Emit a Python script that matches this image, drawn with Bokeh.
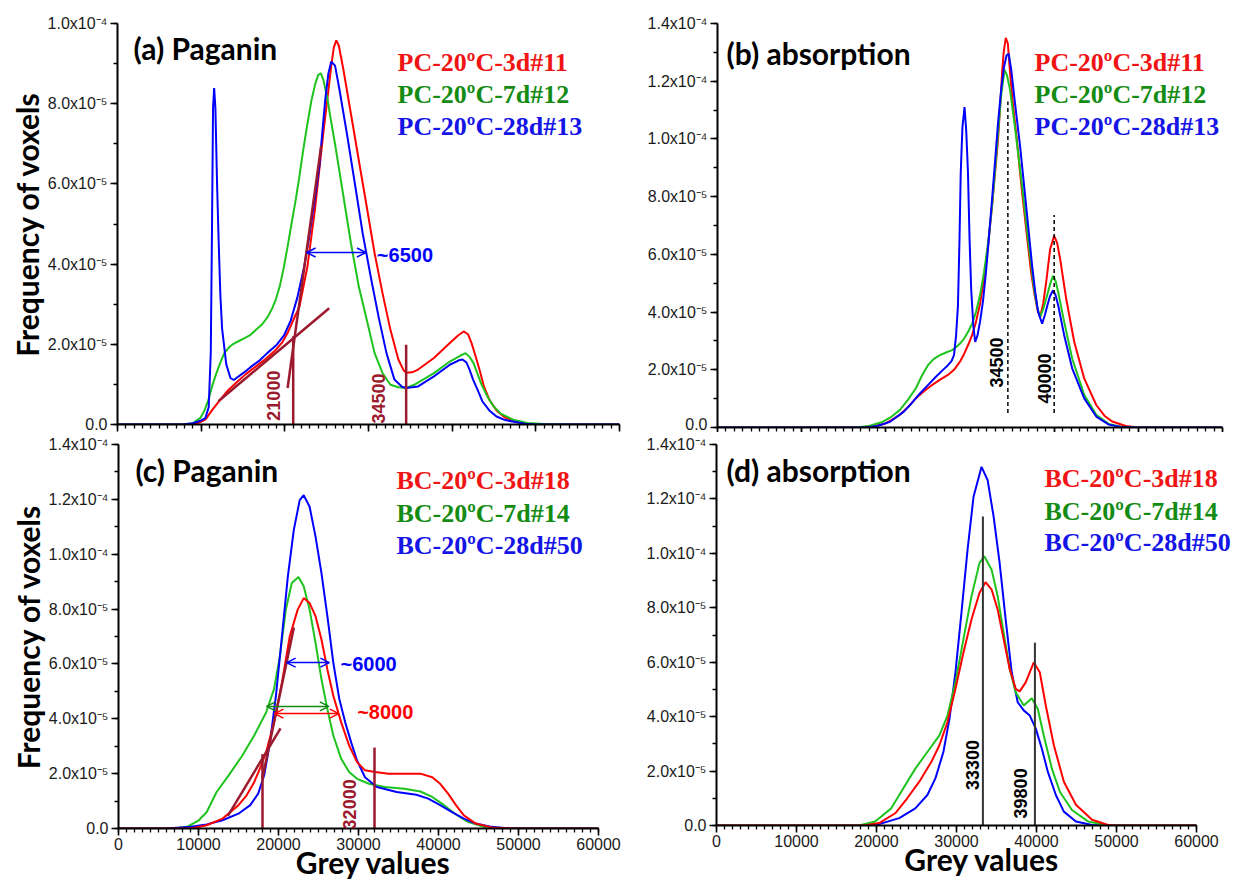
import math
from bokeh.plotting import figure
from bokeh.layouts import column, row
from bokeh.models import (Range1d, FixedTicker, CustomJSTickFormatter, Label,
                          Arrow, OpenHead, CustomLabelingPolicy)
from bokeh.embed import file_html
from bokeh.resources import INLINE

# ---------------------------------------------------------------------------
# Data: grey value histograms, (grey value, frequency x 1e-5)
# ---------------------------------------------------------------------------
SCALE = 1e-5

# (a) Paganin, PC series
A_RED = [(0, 0), (8000, 0), (9500, 0.02), (10500, 0.12), (11350, 0.37), (12290, 0.62),
         (13200, 0.85), (14180, 1.04), (15300, 1.25), (16550, 1.45), (17800, 1.65),
         (18910, 1.86), (19700, 2.05), (20330, 2.28), (21000, 2.6), (21750, 2.94),
         (22700, 3.94), (23640, 5.43), (24590, 7.25), (25530, 8.91), (25850, 9.4),
         (26150, 9.58), (26450, 9.45), (26950, 8.91), (27900, 7.75), (28840, 6.59),
         (29790, 5.43), (30730, 4.27), (31680, 3.27), (32620, 2.36), (33570, 1.62),
         (34200, 1.35), (34520, 1.29), (35200, 1.30), (35930, 1.37), (37820, 1.66),
         (39720, 2.03), (40700, 2.22), (41370, 2.32), (41900, 2.25), (42320, 2.03),
         (42800, 1.70), (43260, 1.37), (43800, 0.95), (44440, 0.62), (45300, 0.35),
         (46330, 0.17), (47500, 0.07), (49000, 0.02), (50500, 0), (60000, 0)]
A_GREEN = [(0, 0), (7800, 0), (9000, 0.03), (9930, 0.17), (10400, 0.35), (10870, 0.62),
           (11300, 0.95), (11820, 1.28), (12300, 1.55), (12770, 1.78), (13300, 1.92),
           (13710, 1.99), (14400, 2.07), (15130, 2.15), (15800, 2.22), (16550, 2.36),
           (17300, 2.5), (17970, 2.69), (18500, 2.9), (18910, 3.11), (19400, 3.45),
           (19860, 3.9), (20300, 4.4), (20750, 4.95), (21300, 5.6), (21750, 6.2),
           (22200, 6.85), (22700, 7.5), (23200, 8.1), (23640, 8.5), (24000, 8.72),
           (24300, 8.76), (24600, 8.6), (25060, 8.16), (25500, 7.6), (26000, 7.0),
           (26950, 5.76), (27900, 4.52), (28840, 3.44), (29790, 2.61), (30730, 1.78),
           (31680, 1.28), (32620, 0.99), (33570, 0.93), (34500, 0.91), (35460, 0.99),
           (37820, 1.28), (39720, 1.57), (41000, 1.72), (41610, 1.78), (42100, 1.68),
           (42550, 1.53), (43000, 1.28), (43500, 1.0), (44200, 0.7), (44920, 0.46),
           (45800, 0.27), (47280, 0.12), (49000, 0.04), (51000, 0.01), (53500, 0),
           (60000, 0)]
A_BLUE = [(0, 0), (7800, 0), (9000, 0.03), (10000, 0.1), (10500, 0.16), (10900, 0.43),
          (11150, 1.8), (11300, 5.0), (11420, 7.9), (11550, 8.39), (11700, 7.9),
          (11900, 6.0), (12100, 4.5), (12300, 3.2), (12500, 2.4), (13000, 1.5),
          (13500, 1.16), (13900, 1.11), (15000, 1.28), (15900, 1.43), (17000, 1.6),
          (17900, 1.78), (19000, 1.98), (19900, 2.22), (20700, 2.59), (21500, 3.17),
          (22300, 3.92), (22900, 4.67), (23500, 5.5), (24110, 6.42), (24820, 8.08),
          (25200, 8.75), (25550, 9.05), (26000, 8.95), (26480, 8.41), (27420, 7.25),
          (28370, 6.01), (29310, 4.76), (30260, 3.69), (31200, 2.69), (32150, 1.78),
          (33100, 1.12), (34000, 0.94), (34520, 0.91), (35930, 0.95), (37820, 1.20),
          (39720, 1.49), (40800, 1.60), (41230, 1.62), (41700, 1.55), (42080, 1.37),
          (42500, 1.12), (43030, 0.87), (43600, 0.58), (44440, 0.35), (45300, 0.2),
          (46330, 0.11), (48700, 0.02), (50000, 0), (60000, 0)]

# (b) absorption, PC series
B_RED = [(0, 0), (17000, 0), (18500, 0.05), (19800, 0.12), (20800, 0.28), (21670, 0.44),
         (22600, 0.7), (23570, 1.01), (24500, 1.25), (25480, 1.47), (26400, 1.65),
         (27380, 1.82), (28100, 2.0), (28810, 2.28), (29300, 2.55), (29760, 2.85),
         (30250, 3.2), (30710, 3.66), (31200, 4.3), (31670, 5.15), (32150, 6.3),
         (32620, 7.68), (33000, 8.9), (33330, 9.98), (33600, 11.2), (33810, 12.28),
         (34000, 13.0), (34250, 13.5), (34500, 13.3), (34760, 12.28), (35100, 11.2),
         (35480, 10.21), (36190, 8.14), (36900, 6.30), (37250, 5.4), (37620, 4.69),
         (38000, 4.1), (38330, 3.83), (38700, 4.3), (39050, 5.03), (39520, 6.18),
         (40000, 6.64), (40350, 6.4), (40710, 5.84), (41430, 4.46), (42380, 2.97),
         (43570, 1.70), (45000, 0.78), (46000, 0.4), (46900, 0.21), (48500, 0.05),
         (50000, 0), (60000, 0)]
B_GREEN = [(0, 0), (16500, 0), (18000, 0.05), (19500, 0.18), (20700, 0.38), (21670, 0.61),
           (22600, 0.95), (23570, 1.36), (24300, 1.8), (25000, 2.16), (25700, 2.38),
           (26430, 2.51), (27150, 2.6), (27860, 2.68), (28350, 2.78), (28810, 2.91),
           (29300, 3.08), (29760, 3.31), (30250, 3.6), (30710, 4.0), (31200, 4.6),
           (31670, 5.38), (32150, 6.4), (32620, 7.68), (33000, 9.0), (33330, 10.21),
           (33700, 11.5), (34100, 12.39), (34400, 12.2), (34760, 11.7), (35480, 10.09),
           (36190, 8.37), (36900, 6.53), (37620, 4.8), (38000, 4.15), (38330, 3.83),
           (38700, 4.1), (39050, 4.46), (39500, 4.95), (39860, 5.26), (40200, 5.05),
           (40480, 4.69), (41190, 3.66), (42140, 2.39), (43570, 1.13), (45000, 0.44),
           (46500, 0.12), (48000, 0.02), (49500, 0), (60000, 0)]
B_BLUE = [(0, 0), (17500, 0), (19000, 0.05), (20500, 0.2), (22140, 0.55), (23100, 0.85),
          (24050, 1.18), (25000, 1.47), (25950, 1.76), (26700, 1.97), (27380, 2.16),
          (27800, 2.3), (28100, 2.51), (28350, 3.2), (28570, 4.23), (28750, 6.5),
          (28900, 8.83), (29100, 10.4), (29350, 11.1), (29550, 10.3), (29760, 8.83),
          (29950, 6.5), (30140, 4.80), (30400, 3.5), (30620, 2.97), (30900, 3.2),
          (31190, 3.66), (31550, 4.4), (31900, 5.38), (32250, 6.6), (32620, 7.91),
          (33000, 9.3), (33330, 10.55), (33700, 11.7), (34050, 12.51), (34350, 12.9),
          (34600, 12.95), (34900, 12.4), (35240, 11.5), (35950, 9.75), (36670, 7.68),
          (37380, 5.61), (37750, 4.7), (38100, 4.0), (38570, 3.60), (38900, 3.9),
          (39190, 4.23), (39500, 4.55), (39860, 4.75), (40150, 4.6), (40480, 4.23),
          (41190, 3.20), (42140, 2.05), (43570, 1.01), (45000, 0.38), (46500, 0.1),
          (48000, 0.02), (49500, 0), (60000, 0)]

# (c) Paganin, BC series
C_RED = [(0, 0), (9000, 0), (11030, 0.12), (13010, 0.36), (14990, 0.85), (16000, 1.2),
         (16960, 1.69), (17700, 2.2), (18450, 2.78), (19440, 3.87), (20430, 5.32),
         (21410, 7.01), (22400, 7.98), (23150, 8.40), (23890, 8.22), (24630, 7.74),
         (25370, 6.89), (26110, 5.80), (26850, 4.84), (27840, 3.87), (28830, 3.02),
         (29820, 2.42), (30810, 2.12), (32050, 2.06), (33780, 2.00), (35760, 2.00),
         (37730, 2.00), (39220, 1.87), (40210, 1.63), (41200, 1.27), (42180, 0.85),
         (43170, 0.48), (44660, 0.18), (46640, 0.04), (49000, 0), (60000, 0)]
C_GREEN = [(0, 0), (7000, 0), (8560, 0.06), (10040, 0.30), (11030, 0.60), (12260, 1.33),
           (13750, 1.93), (15480, 2.66), (16960, 3.39), (18450, 4.23), (19440, 5.08),
           (20180, 6.29), (20920, 7.98), (21660, 8.95), (22500, 9.17), (23150, 8.83),
           (23890, 7.98), (24630, 6.77), (25370, 5.44), (26110, 4.35), (26850, 3.39),
           (27840, 2.54), (28830, 2.06), (29820, 1.81), (31300, 1.63), (33280, 1.51),
           (35760, 1.45), (37730, 1.35), (39220, 1.15), (40700, 0.85), (42180, 0.51),
           (43670, 0.24), (45650, 0.06), (48000, 0), (60000, 0)]
C_BLUE = [(0, 0), (6000, 0), (9050, 0.06), (11030, 0.15), (13010, 0.30), (14990, 0.54),
          (16470, 0.85), (17460, 1.27), (18200, 1.93), (18940, 3.14), (19680, 4.84),
          (20430, 7.01), (21170, 9.19), (21910, 10.88), (22650, 11.97), (23150, 12.15),
          (23890, 11.73), (24630, 10.64), (25370, 9.31), (26110, 7.74), (26850, 6.05),
          (27600, 4.72), (28340, 3.87), (29080, 3.14), (29820, 2.48), (30810, 1.87),
          (32290, 1.51), (34770, 1.33), (37240, 1.23), (38720, 1.09), (40210, 0.85),
          (41690, 0.60), (43170, 0.36), (44660, 0.18), (46640, 0.06), (49000, 0),
          (60000, 0)]

# (d) absorption, BC series
D_RED = [(0, 0), (18500, 0), (20330, 0.09), (22340, 0.45), (23840, 1.0), (25350, 1.61),
         (26860, 2.34), (27860, 2.95), (28870, 3.80), (29870, 5.02), (30870, 6.36),
         (31880, 7.58), (32880, 8.55), (33630, 8.94), (34390, 8.67), (35140, 7.94),
         (35890, 6.85), (36650, 5.75), (37400, 5.02), (37900, 4.93), (38650, 5.26),
         (39660, 5.99), (40410, 5.63), (41160, 4.41), (42170, 2.95), (43420, 1.61),
         (44930, 0.76), (46940, 0.21), (48950, 0.02), (50000, 0), (60000, 0)]
D_GREEN = [(0, 0), (17800, 0), (19830, 0.15), (21840, 0.63), (23340, 1.36), (24850, 2.09),
           (26360, 2.70), (27860, 3.31), (28870, 4.04), (29870, 5.26), (30870, 6.85),
           (31880, 8.43), (32880, 9.65), (33480, 9.89), (34390, 9.40), (35140, 8.43),
           (35890, 7.09), (36650, 5.75), (37400, 4.90), (38400, 4.41), (39410, 4.68),
           (40160, 4.29), (40910, 3.31), (41920, 2.09), (42920, 1.24), (44430, 0.57),
           (46440, 0.15), (48950, 0), (60000, 0)]
D_BLUE = [(0, 0), (17800, 0), (20330, 0.05), (22840, 0.27), (24850, 0.63), (26360, 1.12),
          (27360, 1.73), (28360, 2.70), (29120, 3.92), (29870, 5.63), (30620, 7.82),
          (31380, 10.13), (32130, 12.08), (33130, 13.18), (33890, 12.69), (34640, 11.35),
          (35390, 9.65), (36140, 7.58), (36900, 5.63), (37650, 4.53), (38400, 4.23),
          (39160, 4.04), (39910, 3.56), (40660, 2.83), (41420, 1.97), (42420, 1.12),
          (43420, 0.51), (44930, 0.15), (46940, 0.02), (48950, 0), (60000, 0)]

LEGEND_PC = ["PC-20\u00baC-3d#11", "PC-20\u00baC-7d#12", "PC-20\u00baC-28d#13"]
LEGEND_BC = ["BC-20\u00baC-3d#18", "BC-20\u00baC-7d#14", "BC-20\u00baC-28d#50"]

# threshold markers (grey value, top frequency x 1e-5)
A_THRESH = [(21000, 2.2), (34500, 1.99)]
A_TANGENTS = [((12060, 0.58), (25300, 2.90)), ((20330, 0.91), (24350, 6.96))]
A_FWHM = (22600, 29690, 4.29, "~6500")
B_PEAKS = [(34500, 0.5, 11.3), (40000, 0.5, 7.36)]
C_THRESH = [(18000, 2.71), (32000, 2.95)]
C_TANGENTS = [((13670, 0.46), (20250, 3.65)), ((17960, 1.80), (21920, 7.33))]
C_FWHM = [(21020, 26360, 6.05, "blue"), (18500, 26290, 4.45, "green"),
          (19500, 27540, 4.19, "red")]
D_PEAKS = [(33300, 11.35), (39800, 6.72)]

X_MAX = 60000

# ---------------------------------------------------------------------------
# Styling
# ---------------------------------------------------------------------------
RED, GREEN, BLUE = "#ff0000", "#1ec31e", "#0000ff"
LEG_COLORS = ["#f01414", "#148c14", "#1414e6"]
MAROON = "#9c1a2e"
SANS = "Liberation Sans"
NARROW = "'Liberation Sans Narrow', 'Liberation Sans', sans-serif"
TITLE_FONT = "Lato"
SERIF = "Liberation Serif"

SCI_JS = """
const sup = {"-": "\u207b", "0": "\u2070", "1": "\u00b9", "2": "\u00b2", "3": "\u00b3",
             "4": "\u2074", "5": "\u2075", "6": "\u2076", "7": "\u2077", "8": "\u2078",
             "9": "\u2079"};
if (Math.abs(tick) < 1e-12) { return "0.0"; }
const e = Math.floor(Math.log10(Math.abs(tick)) + 1e-6);
const m = tick / Math.pow(10, e);
return m.toFixed(1) + "x10" + String(e).split("").map(c => sup[c]).join("");
"""

# drop every tick label (top panels show ticks only)
HIDE_LABELS_JS = """
const all = [];
for (const i of indices) { all.push(i); }
for (const i of all) { indices.unset(i); }
return indices;
"""


def make_panel(ymax, left, fw, right, top, fh, bottom, xlabels, x_end=X_MAX):
    p = figure(frame_width=fw, frame_height=fh,
               min_border_left=left, min_border_right=right,
               min_border_top=top, min_border_bottom=bottom,
               x_range=Range1d(0, x_end), y_range=Range1d(0, ymax),
               output_backend="svg", toolbar_location=None, tools="")
    p.outline_line_color = None
    p.xgrid.visible = False
    p.ygrid.visible = False
    p.background_fill_color = "white"
    p.border_fill_color = "white"

    nmaj = int(round(ymax / 2e-5))
    p.yaxis.ticker = FixedTicker(
        ticks=[round(i * 2e-5, 12) for i in range(nmaj + 1)],
        minor_ticks=[round(i * 1e-5, 12) for i in range(2 * nmaj + 1)])
    p.yaxis.formatter = CustomJSTickFormatter(code=SCI_JS)
    p.xaxis.ticker = FixedTicker(ticks=list(range(0, X_MAX + 1, 10000)),
                                 minor_ticks=list(range(0, X_MAX + 1, 1000)))
    p.xaxis.bounds = (0, X_MAX)

    for ax in (p.xaxis[0], p.yaxis[0]):
        ax.axis_line_width = 2
        ax.axis_line_color = "black"
        ax.major_tick_line_width = 1.6
        ax.minor_tick_line_width = 1.3
        ax.major_tick_line_color = "black"
        ax.minor_tick_line_color = "black"
        ax.major_tick_in = 0
        ax.major_tick_out = 7
        ax.minor_tick_in = 0
        ax.minor_tick_out = 4
        ax.major_label_text_font = SANS
        ax.major_label_text_font_size = "16px"
        ax.major_label_text_color = "#1a1a1a"
        ax.axis_label_text_font = TITLE_FONT
        ax.axis_label_text_font_style = "bold"
        ax.axis_label_text_font_size = "30px"
        ax.axis_label_text_color = "black"
    p.yaxis.major_label_standoff = 3
    if xlabels:
        p.xaxis.major_label_standoff = 2
    else:
        p.xaxis.major_label_text_font_size = "0px"
        p.xaxis.major_label_standoff = 0
        p.xaxis.major_label_policy = CustomLabelingPolicy(code=HIDE_LABELS_JS)
    return p


def draw_curves(p, curves):
    for pts, color in curves:
        xs = [v for v, _ in pts]
        ys = [f * SCALE for _, f in pts]
        p.line(xs, ys, line_color=color, line_width=2)


def text(p, x, y, s, color, size, font, xu="data", yu="data", angle=0.0,
         align="left", style="bold"):
    p.add_layout(Label(x=x, y=y, x_units=xu, y_units=yu, text=s, text_color=color,
                       text_font=font, text_font_size=size, text_font_style=style,
                       text_align=align, text_baseline="middle", angle=angle))


def legend(p, labels, x, ys):
    for s, c, y in zip(labels, LEG_COLORS, ys):
        text(p, x, y, s, c, "26px", SERIF, xu="screen", yu="screen")


def double_arrow(p, x0, x1, y, color):
    p.add_layout(Arrow(start=OpenHead(size=9, line_color=color, line_width=1.5),
                       end=OpenHead(size=9, line_color=color, line_width=1.5),
                       x_start=x0, y_start=y * SCALE, x_end=x1, y_end=y * SCALE,
                       line_color=color, line_width=1.5))


# ---------------------------------------------------------------------------
# (a) Paganin, PC
# ---------------------------------------------------------------------------
pa = make_panel(1.0e-4, 117, 502, 21, 23, 401, 8, False)
pa.yaxis.axis_label = "Frequency of voxels"
pa.yaxis.axis_label_standoff = 0
draw_curves(pa, [(A_RED, RED), (A_GREEN, GREEN), (A_BLUE, BLUE)])
for (x0, y0), (x1, y1) in A_TANGENTS:
    pa.line([x0, x1], [y0 * SCALE, y1 * SCALE], line_color=MAROON, line_width=2.5)
for xv, top_f in A_THRESH:
    pa.line([xv, xv], [0, top_f * SCALE], line_color=MAROON, line_width=2.5)
text(pa, 18700, 0.72e-5, "21000", MAROON, "18px", SANS, angle=math.pi / 2, align="center")
text(pa, 31240, 0.65e-5, "34500", MAROON, "18px", SANS, angle=math.pi / 2, align="center")
double_arrow(pa, A_FWHM[0], A_FWHM[1], A_FWHM[2], BLUE)
text(pa, 31000, 4.23e-5, A_FWHM[3], BLUE, "20px", NARROW)
text(pa, 16, 377, "(a) Paganin", "black", "30px", TITLE_FONT, xu="screen", yu="screen")
legend(pa, LEGEND_PC, 280, [362, 330, 298])

# ---------------------------------------------------------------------------
# (b) absorption, PC
# ---------------------------------------------------------------------------
pb = make_panel(1.4e-4, 77, 505, 25, 16, 404, 12, False)
draw_curves(pb, [(B_RED, RED), (B_GREEN, GREEN), (B_BLUE, BLUE)])
for xv, f0, f1 in B_PEAKS:
    pb.line([xv, xv], [f0 * SCALE, f1 * SCALE], line_color="black", line_width=1.5,
            line_dash="4 3")
text(pb, 33150, 2.25e-5, "34500", "black", "18px", SANS, angle=math.pi / 2, align="center")
text(pb, 38810, 1.70e-5, "40000", "black", "18px", SANS, angle=math.pi / 2, align="center")
text(pb, 9, 375, "(b) absorption", "black", "30px", TITLE_FONT, xu="screen", yu="screen")
legend(pb, LEGEND_PC, 317, [365, 333, 301])

# ---------------------------------------------------------------------------
# (c) Paganin, BC
# ---------------------------------------------------------------------------
pc = make_panel(1.4e-4, 118, 510, 12, 10, 384, 54, True, x_end=63750)
pc.yaxis.axis_label = "Frequency of voxels"
pc.yaxis.axis_label_standoff = 0
pc.xaxis.axis_label = "Grey values"
pc.xaxis.axis_label_standoff = -9
draw_curves(pc, [(C_GREEN, GREEN), (C_BLUE, BLUE), (C_RED, RED)])
for (x0, y0), (x1, y1) in C_TANGENTS:
    pc.line([x0, x1], [y0 * SCALE, y1 * SCALE], line_color=MAROON, line_width=2.5)
for xv, top_f in C_THRESH:
    pc.line([xv, xv], [0, top_f * SCALE], line_color=MAROON, line_width=2.5)
text(pc, 28880, 0.88e-5, "32000", MAROON, "18px", SANS, angle=math.pi / 2, align="center")
for x0, x1, f, c in C_FWHM:
    col = {"blue": BLUE, "green": "#128a12", "red": RED}[c]
    double_arrow(pc, x0, x1, f, col)
text(pc, 27750, 5.99e-5, "~6000", BLUE, "20px", NARROW)
text(pc, 29830, 4.23e-5, "~8000", RED, "20px", NARROW)
text(pc, 17, 359, "(c) Paganin", "black", "30px", TITLE_FONT, xu="screen", yu="screen")
legend(pc, LEGEND_BC, 278, [348, 315, 283])

# ---------------------------------------------------------------------------
# (d) absorption, BC
# ---------------------------------------------------------------------------
pd = make_panel(1.4e-4, 76, 531, 0, 12, 381, 55, True, x_end=66375)
pd.xaxis.axis_label = "Grey values"
pd.xaxis.axis_label_standoff = -9
draw_curves(pd, [(D_BLUE, BLUE), (D_GREEN, GREEN), (D_RED, RED)])
for xv, top_f in D_PEAKS:
    pd.line([xv, xv], [0, top_f * SCALE], line_color="#333333", line_width=2)
text(pd, 32000, 2.22e-5, "33300", "black", "18px", SANS, angle=math.pi / 2, align="center")
text(pd, 37980, 1.18e-5, "39800", "black", "18px", SANS, angle=math.pi / 2, align="center")
text(pd, 10, 356, "(d) absorption", "black", "30px", TITLE_FONT, xu="screen", yu="screen")
legend(pd, LEGEND_BC, 328, [347, 314, 283])

layout = column(row(pa, pb), row(pc, pd))
open("out.html", "w").write(file_html(layout, INLINE))
